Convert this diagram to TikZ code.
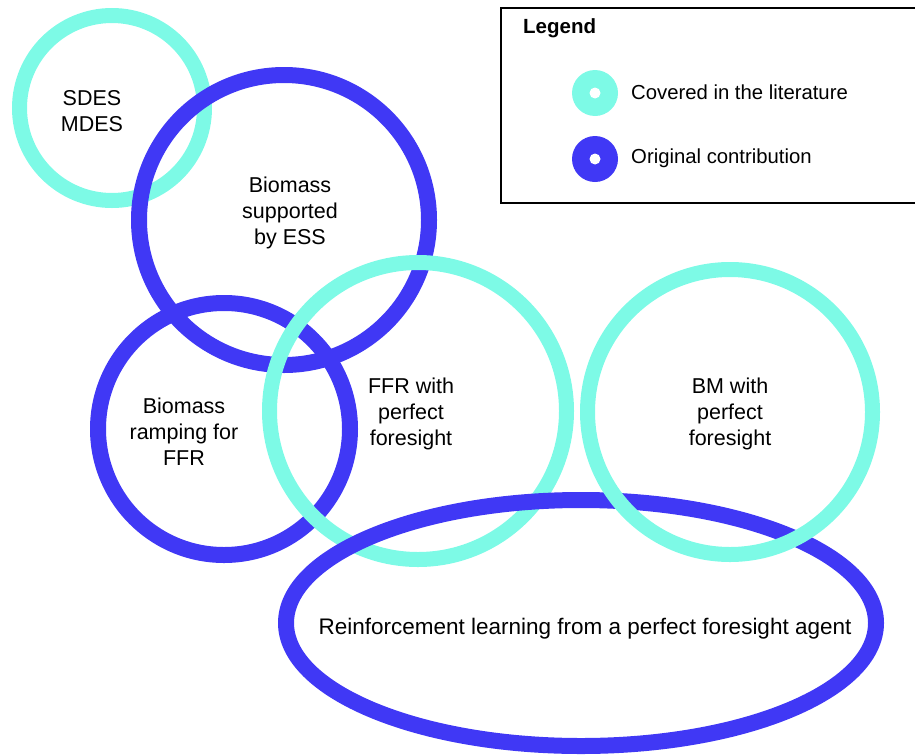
\documentclass[tikz,border=0pt]{standalone}
\usepackage{fontspec}
\setmainfont{Liberation Sans}
\definecolor{litcyan}{RGB}{125,250,230}
\definecolor{origblue}{RGB}{64,56,245}
\begin{document}
\begin{tikzpicture}[x=1pt,y=-1pt,
  lit/.style={draw=litcyan,line width=15pt},
  orig/.style={draw=origblue,line width=16pt},
  lbl/.style={align=center,font=\fontsize{21.5}{26}\selectfont,inner sep=0pt},
  legtxt/.style={anchor=west,font=\fontsize{20.3}{24}\selectfont,inner sep=0pt}]
\useasboundingbox (0,0) rectangle (915,755);
\begin{scope}
\clip (0,0) rectangle (915,755);
% legend box
\draw[line width=2pt] (501,8) rectangle (930,203);
\node[anchor=west,font=\bfseries\fontsize{20.5}{24}\selectfont,inner sep=0pt] (legtitle) at (523,28) {Legend};
\fill[litcyan] (595,93) circle (23);
\fill[white] (595,93) circle (5.5);
\fill[origblue] (595,159) circle (23);
\fill[white] (595,159) circle (5.5);
\node[legtxt] (legcov) at (631,92) {Covered in the literature};
\node[legtxt] (legorig) at (631,158) {Original contribution};
% circles
\draw[lit] (112,108) circle (92.5);
\draw[orig] (284,220) circle (145);
\draw[orig] (224,429) circle (126);
\draw[lit] (418,411) circle (148.5);
\draw[orig] (581,623) ellipse (295 and 123);
\draw[lit] (730,412) circle (142.5);
\end{scope}
% labels
\node[lbl] (sdes) at (92,111) {SDES\\MDES};
\node[lbl] (bess) at (290,213) {Biomass\\supported\\by ESS};
\node[lbl] (bramp) at (184,432) {Biomass\\ramping for\\FFR};
\node[lbl] (ffr) at (411,414) {FFR with\\perfect\\foresight};
\node[lbl] (bm) at (730,414) {BM with\\perfect\\foresight};
\node[lbl,font=\fontsize{22.5}{26}\selectfont] (rl) at (585,629) {Reinforcement learning from a perfect foresight agent};
\end{tikzpicture}
\end{document}
